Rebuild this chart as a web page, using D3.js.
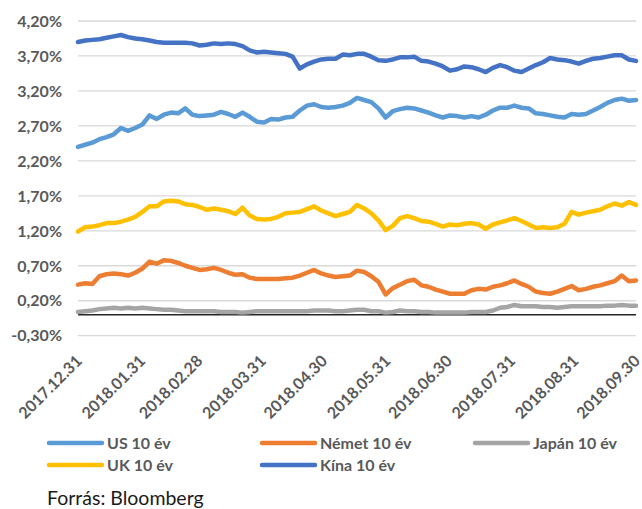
<!DOCTYPE html>
<html>
<head>
<meta charset="utf-8">
<script src="https://cdn.jsdelivr.net/npm/d3@7"></script>
<style>
  body { margin: 0; background: #fff; }
  svg { display: block; font-family: Lato, "Open Sans", sans-serif; }
</style>
</head>
<body>
<div id="chart"></div>
<script>
// ~twice-weekly readings, 2017.12.31 - 2018.09.30
var startDate = new Date(2017, 11, 31);
var endDate = new Date(2018, 8, 30);

var us10 = [2.40, 2.43, 2.46, 2.51, 2.54, 2.58, 2.67, 2.63, 2.67, 2.72,
  2.85, 2.80, 2.86, 2.89, 2.88, 2.95, 2.86, 2.84, 2.85, 2.86,
  2.90, 2.87, 2.83, 2.89, 2.83, 2.76, 2.75, 2.80, 2.79, 2.82,
  2.83, 2.92, 2.99, 3.01, 2.97, 2.96, 2.97, 2.99, 3.03, 3.10,
  3.07, 3.04, 2.95, 2.82, 2.91, 2.94, 2.96, 2.95, 2.92, 2.89,
  2.85, 2.82, 2.85, 2.84, 2.82, 2.84, 2.82, 2.86, 2.92, 2.96,
  2.96, 2.99, 2.96, 2.95, 2.88, 2.87, 2.85, 2.83, 2.82, 2.87,
  2.86, 2.87, 2.92, 2.97, 3.03, 3.07, 3.09, 3.06, 3.07];

var nemet10 = [0.43, 0.45, 0.44, 0.55, 0.58, 0.59, 0.58, 0.56, 0.60, 0.66,
  0.76, 0.73, 0.78, 0.77, 0.74, 0.70, 0.67, 0.64, 0.65, 0.67,
  0.64, 0.60, 0.57, 0.58, 0.53, 0.51, 0.51, 0.51, 0.51, 0.52,
  0.53, 0.56, 0.60, 0.64, 0.59, 0.56, 0.54, 0.55, 0.56, 0.63,
  0.61, 0.55, 0.47, 0.29, 0.38, 0.43, 0.48, 0.50, 0.42, 0.40,
  0.36, 0.33, 0.30, 0.30, 0.30, 0.35, 0.37, 0.36, 0.40, 0.42,
  0.45, 0.49, 0.44, 0.40, 0.33, 0.31, 0.30, 0.33, 0.37, 0.41,
  0.35, 0.37, 0.40, 0.42, 0.45, 0.48, 0.56, 0.48, 0.49];

var japan10 = [0.04, 0.05, 0.06, 0.08, 0.09, 0.10, 0.09, 0.10, 0.09, 0.10,
  0.09, 0.08, 0.07, 0.07, 0.06, 0.05, 0.05, 0.05, 0.05, 0.05,
  0.04, 0.04, 0.04, 0.03, 0.04, 0.05, 0.05, 0.05, 0.05, 0.05,
  0.05, 0.05, 0.05, 0.06, 0.06, 0.06, 0.05, 0.05, 0.06, 0.07,
  0.07, 0.05, 0.05, 0.03, 0.04, 0.06, 0.05, 0.05, 0.04, 0.04,
  0.03, 0.03, 0.03, 0.03, 0.03, 0.04, 0.04, 0.04, 0.06, 0.10,
  0.11, 0.14, 0.12, 0.12, 0.12, 0.11, 0.11, 0.10, 0.11, 0.12,
  0.12, 0.12, 0.12, 0.12, 0.13, 0.13, 0.14, 0.13, 0.13];

var uk10 = [1.19, 1.25, 1.26, 1.28, 1.31, 1.31, 1.33, 1.36, 1.40, 1.47,
  1.55, 1.55, 1.62, 1.63, 1.62, 1.58, 1.57, 1.54, 1.50, 1.52,
  1.50, 1.48, 1.44, 1.53, 1.42, 1.37, 1.36, 1.37, 1.40, 1.45,
  1.46, 1.47, 1.51, 1.55, 1.49, 1.45, 1.41, 1.44, 1.47, 1.57,
  1.52, 1.45, 1.35, 1.21, 1.27, 1.38, 1.41, 1.38, 1.34, 1.33,
  1.30, 1.26, 1.29, 1.28, 1.30, 1.31, 1.29, 1.23, 1.29, 1.32,
  1.35, 1.38, 1.34, 1.29, 1.24, 1.25, 1.24, 1.25, 1.30, 1.47,
  1.43, 1.46, 1.48, 1.50, 1.55, 1.59, 1.56, 1.61, 1.57];

var kina10 = [3.90, 3.92, 3.93, 3.94, 3.96, 3.98, 4.00, 3.97, 3.95, 3.94,
  3.92, 3.90, 3.89, 3.89, 3.89, 3.89, 3.88, 3.85, 3.86, 3.88,
  3.87, 3.88, 3.87, 3.84, 3.78, 3.75, 3.76, 3.75, 3.74, 3.73,
  3.69, 3.52, 3.58, 3.62, 3.65, 3.66, 3.66, 3.72, 3.71, 3.73,
  3.73, 3.69, 3.64, 3.63, 3.65, 3.68, 3.68, 3.69, 3.63, 3.62,
  3.59, 3.55, 3.49, 3.51, 3.55, 3.54, 3.51, 3.47, 3.53, 3.57,
  3.54, 3.49, 3.47, 3.52, 3.57, 3.61, 3.67, 3.65, 3.64, 3.62,
  3.59, 3.63, 3.66, 3.67, 3.69, 3.71, 3.71, 3.65, 3.63];

var seriesNames = ["US 10 év", "Német 10 év", "Japán 10 év", "UK 10 év", "Kína 10 év"];
var seriesColors = ["#5b9bd5", "#ed7d31", "#a5a5a5", "#ffc000", "#4472c4"];
var yTicks = [-0.3, 0.2, 0.7, 1.2, 1.7, 2.2, 2.7, 3.2, 3.7, 4.2];
var xTickDates = [new Date(2017, 11, 31), new Date(2018, 0, 31), new Date(2018, 1, 28),
  new Date(2018, 2, 31), new Date(2018, 3, 30), new Date(2018, 4, 31), new Date(2018, 5, 30),
  new Date(2018, 6, 31), new Date(2018, 7, 31), new Date(2018, 8, 30)];

var dates = us10.map(function (d, i) { return d3.timeHour.offset(startDate, i * 84); });
var allSeries = [us10, nemet10, japan10, uk10, kina10];

var width = 642, height = 509;
var svg = d3.select("#chart").append("svg")
    .attr("width", width)
    .attr("height", height);

var x = d3.scaleTime()
    .domain([startDate, endDate])
    .range([78, 636]);

var y = d3.scaleLinear()
    .domain([-0.3, 4.2])
    .range([335.7, 21]);

var fmtPct = function (v) { return v.toFixed(2).replace(".", ",") + "%"; };
var fmtDate = d3.timeFormat("%Y.%m.%d");

// gridlines
svg.append("g")
    .selectAll("line")
    .data(yTicks)
    .enter().append("line")
    .attr("x1", x.range()[0])
    .attr("x2", x.range()[1])
    .attr("y1", function (d) { return y(d); })
    .attr("y2", function (d) { return y(d); })
    .attr("stroke", "#d9d9d9")
    .attr("stroke-width", 1.3);

// y labels
svg.append("g")
    .selectAll("text")
    .data(yTicks)
    .enter().append("text")
    .attr("x", 62)
    .attr("y", function (d) { return y(d); })
    .attr("dy", "0.36em")
    .attr("text-anchor", "end")
    .attr("font-size", 16)
    .attr("font-weight", "bold")
    .attr("fill", "#595959")
    .text(fmtPct);

// zero axis line
svg.append("line")
    .attr("x1", x.range()[0])
    .attr("x2", x.range()[1])
    .attr("y1", y(0))
    .attr("y2", y(0))
    .attr("stroke", "#262626")
    .attr("stroke-width", 1.5);

// x labels, rotated
svg.append("g")
    .selectAll("text")
    .data(xTickDates)
    .enter().append("text")
    .attr("transform", function (d) {
        return "translate(" + (x(d) + 5) + ",362) rotate(-45)";
    })
    .attr("text-anchor", "end")
    .attr("font-size", 16)
    .attr("font-weight", "bold")
    .attr("fill", "#595959")
    .text(fmtDate);

// series
var line = d3.line()
    .x(function (d, i) { return x(dates[i]); })
    .y(function (d) { return y(d); });

svg.append("g")
    .selectAll("path")
    .data(allSeries)
    .enter().append("path")
    .attr("d", line)
    .attr("fill", "none")
    .attr("stroke", function (d, i) { return seriesColors[i]; })
    .attr("stroke-width", 4.5)
    .attr("stroke-linejoin", "round")
    .attr("stroke-linecap", "round");

// legend
var legendPos = [[47, 443], [260, 443], [473, 443], [47, 465], [260, 465]];
var legend = svg.append("g")
    .selectAll("g")
    .data(seriesNames)
    .enter().append("g")
    .attr("transform", function (d, i) {
        return "translate(" + legendPos[i][0] + "," + legendPos[i][1] + ")";
    });

legend.append("line")
    .attr("x1", 2).attr("x2", 55)
    .attr("stroke", function (d, i) { return seriesColors[i]; })
    .attr("stroke-width", 4.5)
    .attr("stroke-linecap", "round");

legend.append("text")
    .attr("x", 60)
    .attr("dy", "0.36em")
    .attr("font-size", 16)
    .attr("font-weight", "bold")
    .attr("fill", "#595959")
    .text(function (d) { return d; });

svg.append("text")
    .attr("x", 47)
    .attr("y", 505)
    .attr("font-size", 19.5)
    .attr("fill", "#1a1a1a")
    .text("Forrás: Bloomberg");
</script>
</body>
</html>
